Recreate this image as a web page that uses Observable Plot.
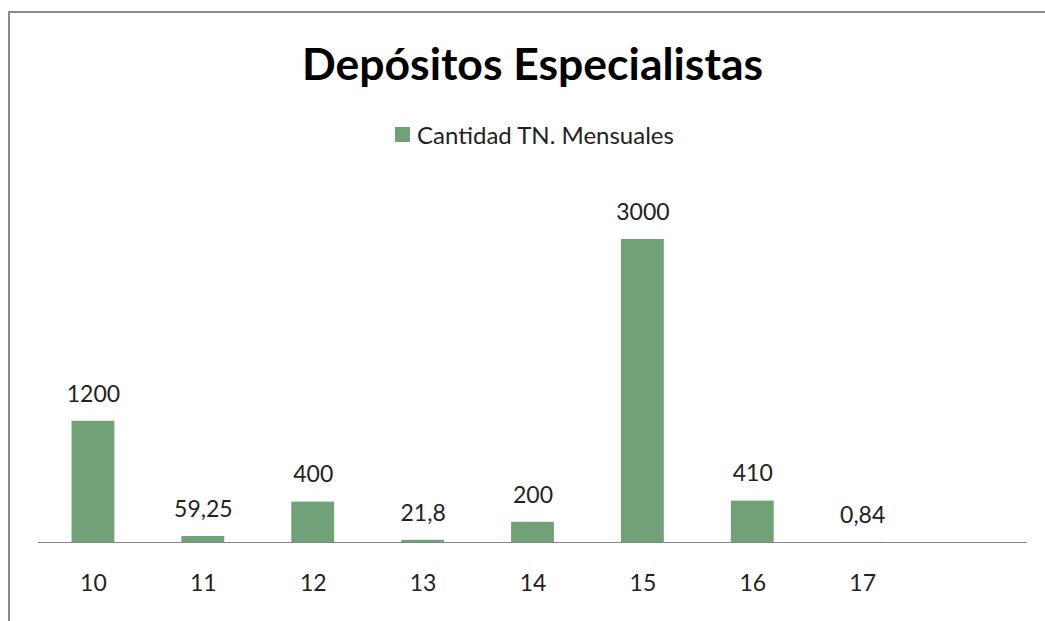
<!DOCTYPE html>
<html>
<head>
<meta charset="utf-8">
<script src="https://cdn.jsdelivr.net/npm/d3@7"></script>
<script src="https://cdn.jsdelivr.net/npm/@observablehq/plot@0.6"></script>
<style>
  html, body { margin: 0; padding: 0; background: #fff; width: 1045px; height: 621px; overflow: hidden; }
  #frame { position: absolute; left: 8px; top: 11px; width: 1100px; height: 700px;
           border-top: 2px solid #8a8a8a; border-left: 2px solid #8a8a8a; }
  #title { position: absolute; left: 0; width: 1065px; top: 36px; text-align: center;
           font-family: Lato, "Open Sans", sans-serif; font-weight: bold; font-size: 44.5px; color: #000; }
  #legend { position: absolute; left: 395px; top: 120px; font-family: Lato, "Open Sans", sans-serif;
            font-size: 24px; color: #222; display: flex; align-items: center; }
  #legend .sw { width: 15px; height: 15px; background: #71a277; margin-right: 7px; }
  #chart { position: absolute; left: 0; top: 170px; }
</style>
</head>
<body>
<div id="frame"></div>
<div id="title">Depósitos Especialistas</div>
<div id="legend"><span class="sw"></span><span>Cantidad TN. Mensuales</span></div>
<div id="chart"></div>
<script>
const categories = ["10", "11", "12", "13", "14", "15", "16", "17"];
const values = [1200, 59.25, 400, 21.8, 200, 3000, 410, 0.84];
const valueLabels = ["1200", "59,25", "400", "21,8", "200", "3000", "410", "0,84"];
const seriesName = "Cantidad TN. Mensuales";

const data = categories.map((c, i) => ({cat: c, value: values[i], label: valueLabels[i]}));

const chart = Plot.plot({
  width: 1045,
  height: 451,
  marginLeft: 38,
  marginRight: 18,
  marginTop: 18.5,
  marginBottom: 79,
  style: {fontFamily: "Lato, 'Open Sans', sans-serif", fontSize: "23px", color: "#222", background: "transparent"},
  x: {domain: [...categories, " "], paddingInner: 0.61, paddingOuter: 0.305, round: false, label: null},
  y: {domain: [0, 3500], axis: null},
  marks: [
    Plot.barY(data, {x: "cat", y: "value", fill: "#71a277"}),
    Plot.ruleY([0], {stroke: "#868686", strokeWidth: 1.2}),
    Plot.text(data, {x: "cat", y: "value", text: "label", dy: -27, lineAnchor: "middle", fontSize: 23, fill: "#222"}),
    Plot.axisX({tickSize: 0, tickPadding: 32, fontSize: 23, label: null, fill: "#222"})
  ]
});
document.getElementById("chart").appendChild(chart);
</script>
</body>
</html>
